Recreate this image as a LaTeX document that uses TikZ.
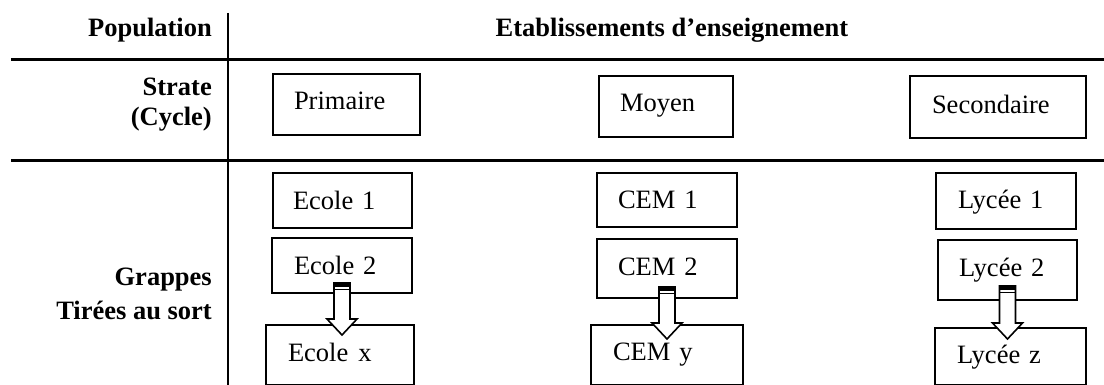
\documentclass[tikz,border=0pt]{standalone}
\usepackage{fontspec}
\setmainfont{Liberation Serif}
\usetikzlibrary{calc}
\newcommand\myfont{\fontsize{26.5}{30}\selectfont}
\tikzset{
  box/.style={draw, line width=2pt, anchor=north west, align=left, inner ysep=0pt, text depth=6pt},
  head/.style={font=\myfont\bfseries, inner sep=0pt},
  rule/.style={line width=3pt},
  vrule/.style={line width=2pt},
  blockarr/.style={draw, fill=white, line width=1.6pt, line join=miter}
}
% #1 from node, #2 to node, #3 top gap, #4 tip depth
\newcommand\myblockarrow[4]{%
  \draw[blockarr] let \p1=($(#1.south)+(0,-#3)$), \p2=($(#2.north)+(0,#4)$) in
    (\x1-8pt,\y1) -- (\x1-8pt,\y2+16pt) -- (\x1-15pt,\y2+16pt) -- (\x1,\y2)
    -- (\x1+15pt,\y2+16pt) -- (\x1+8pt,\y2+16pt) -- (\x1+8pt,\y1) -- cycle;
  \fill let \p1=($(#1.south)+(0,-#3)$) in (\x1-8pt,\y1) rectangle (\x1+8pt,\y1-4pt);
  \draw[line width=1.2pt] let \p1=($(#1.south)+(0,-#3)$) in (\x1-8pt,\y1-6.5pt) -- (\x1+8pt,\y1-6.5pt);
}
% name, x1, y1, x2, y2, inset, baseline y, text
\newcommand\mybox[8]{%
  \node[box, minimum width=#4pt-#2pt, minimum height=#5pt-#3pt,
        text width=#4pt-#2pt-2*#6pt, inner xsep=#6pt,
        text height=2*#7pt-2*#3pt-#5pt+#3pt+6pt] (#1) at (#2,#3) {#8};
}
\begin{document}
\begin{tikzpicture}[x=1pt,y=-1pt,font=\myfont]
\useasboundingbox (0,0) rectangle (1104,385);
% frame
\coordinate (vtop) at (228,13);
\coordinate (vbot) at (228,385);
\coordinate (h1l) at (11,60);
\coordinate (h1r) at (1104,60);
\coordinate (h2l) at (11,161);
\coordinate (h2r) at (1104,161);
\draw[vrule] (vtop) -- (vbot);
\draw[rule] (h1l) -- (h1r);
\draw[rule] (h2l) -- (h2r);
% headings
\node[head, anchor=base east] (pop) at (212,37) {Population};
\node[head, anchor=base] (etab) at (672,37) {Etablissements d’enseignement};
\node[head, anchor=base east] (strate) at (212,96) {Strate};
\node[head, anchor=base east] (cycle) at (212,126) {(Cycle)};
\node[head, anchor=base east] (grappes) at (212,285) {Grappes};
\node[head, anchor=base east] (tirees) at (212,319) {Tirées au sort};
% strata
\mybox{prim}{272}{73}{419}{134}{21}{109}{Primaire}
\mybox{moy}{598}{75}{732}{136}{21}{111}{Moyen}
\mybox{sec}{909}{75}{1085}{137}{22}{113}{Secondaire}
% clusters
\mybox{e1}{272}{172}{411}{227}{20}{209}{Ecole 1}
\mybox{e2}{271}{237}{411}{292}{22}{273}{Ecole 2}
\mybox{ex}{265}{324}{413}{384}{22}{360}{Ecole\hspace{10pt}x}
\mybox{c1}{596}{172}{736}{226}{21}{208}{CEM 1}
\mybox{c2}{596}{238}{736}{297}{21}{274}{CEM 2}
\mybox{cy}{590}{324}{742}{384}{22}{359}{CEM y}
\mybox{l1}{935}{172}{1075}{228}{22}{207}{Lycée 1}
\mybox{l2}{937}{239}{1076}{299}{21}{275}{Lycée 2}
\mybox{lz}{934}{327}{1085}{384}{22}{362}{Lycée z}
% arrows
\myblockarrow{e2}{ex}{11}{11}
\myblockarrow{c2}{cy}{12}{15}
\myblockarrow{l2}{lz}{15}{12}
\end{tikzpicture}
\end{document}
